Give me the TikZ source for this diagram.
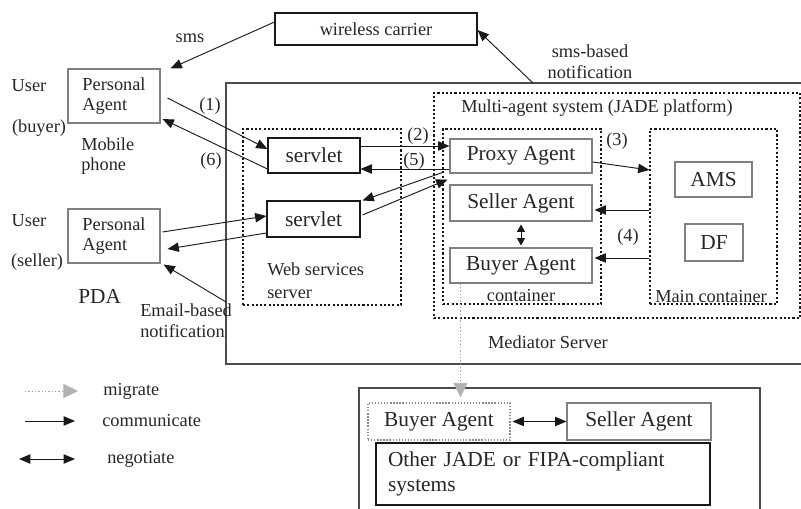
\documentclass[tikz,border=0pt]{standalone}
\usepackage{fontspec}
\setmainfont{Liberation Serif}
\usetikzlibrary{arrows.meta,calc}
\begin{document}
\begin{tikzpicture}[x=0.75pt,y=-0.75pt,
  big/.style={font=\fontsize{16}{19}\selectfont},
  small/.style={font=\fontsize{13.75}{15.5}\selectfont},
  sz/.style 2 args={minimum width=#1*0.75pt, minimum height=#2*0.75pt},
  txt/.style={inner sep=0pt, text=black!85},
  bx/.style={draw=black!90, line width=0.8pt, inner sep=0pt, text=black!85},
  gbx/.style={bx, draw=black!50},
  dbox/.style={draw=black!90, dash pattern=on 1.6pt off 1.6pt, line width=0.8pt, inner sep=0pt},
  arr/.style={-{Triangle[length=8.5pt,width=7pt]}, line width=0.7pt, black!90},
  darr/.style={{Triangle[length=8.5pt,width=7pt]}-{Triangle[length=8.5pt,width=7pt]}, line width=0.7pt, black!90},
  sdarr/.style={{Triangle[length=5.5pt,width=6pt]}-{Triangle[length=5.5pt,width=6pt]}, line width=0.7pt, black!90},
  mig/.style={draw=black!35, dash pattern=on 1pt off 1.5pt, line width=0.7pt, -{Triangle[length=11pt,width=10.5pt,color=black!30]}}
]
\useasboundingbox (0,0) rectangle (801,509);

% Mediator server frame (open to the right)
\draw[black!70, line width=0.9pt] (805,83) -- (226,83) -- (226,364) -- (805,364);
\coordinate (mtop) at (533,83);
\coordinate (mleft) at (226,302);

% bottom frame
\draw[black!70, line width=0.9pt] (359,512) -- (359,388) -- (760,388) -- (760,512);

% boxes
\node[bx, small, sz={202}{32}] (wc) at (376,29) {wireless carrier};
\node[gbx, small, align=left, sz={92}{54}] (pa1) at (114,96) {Personal\\Agent};
\node[gbx, small, align=left, sz={92}{54}] (pa2) at (114,236) {Personal\\Agent};
\node[bx, big, sz={92}{35}] (sv1) at (314,155.5) {servlet};
\node[bx, big, sz={93}{36}] (sv2) at (313.5,219) {servlet};
\node[gbx, big, sz={142}{34}] (proxy) at (521,156) {Proxy Agent};
\node[gbx, big, sz={142}{36}] (seller) at (521,203) {Seller Agent};
\node[gbx, big, sz={142}{35}] (buyer) at (521,265.5) {Buyer Agent};
\node[gbx, big, sz={77}{35}] (ams) at (713.5,179.5) {AMS};
\node[gbx, big, sz={58}{37}] (df) at (714,242.5) {DF};

% dotted containers
\node[dbox, sz={158}{176}] (wss) at (322,217) {};
\node[dbox, sz={366}{225}] (mas) at (617,205.5) {};
\node[dbox, sz={158}{175}] (cont) at (522,216.5) {};
\node[dbox, sz={127}{175}] (mainc) at (713.5,216.5) {};

% bottom system
\node[dbox, draw=black!45, dash pattern=on 1pt off 1.3pt, big, text=black!85, sz={142}{37}] (bbuyer) at (439,421.5) {Buyer Agent};
\node[gbx, big, sz={144}{37}] (bseller) at (639,421.5) {Seller Agent};
\node[bx, big, sz={334}{62}, text width=232.5pt, align=left] (other) at (543,474) {Other JADE or FIPA-compliant\\systems};

% labels
\node[txt, small] (lsms) at (190,38) {sms};
\node[txt, small, align=center] (lsmsb) at (590,62) {sms-based\\notification};
\node[txt, small] (luser1) at (29,86) {User};
\node[txt, small] (lbuyer) at (39,128) {(buyer)};
\node[txt, small, align=left, anchor=west] (lmob) at (81,156) {Mobile\\phone};
\node[txt, small] (luser2) at (29,221) {User};
\node[txt, small] (lseller) at (37,262) {(seller)};
\node[txt, big, anchor=west] (lpda) at (78,296) {PDA};
\node[txt, small, align=left, anchor=west] (lemail) at (140,321) {Email-based\\notification};
\node[txt, small, align=left, anchor=west, font=\fontsize{13.75}{17}\selectfont] (lwss) at (267,281) {Web services\\server};
\node[txt, small, anchor=west] (lmas) at (461,108) {Multi-agent system (JADE platform)};
\node[txt, small] (lcont) at (521,296) {container};
\node[txt, small] (lmainc) at (711,297) {Main container};
\node[txt, small] (lmed) at (548,342) {Mediator Server};
\node[txt, small] (l1) at (210,106) {(1)};
\node[txt, small] (l6) at (211,161) {(6)};
\node[txt, small] (l2) at (418,136) {(2)};
\node[txt, small] (l5) at (414,161) {(5)};
\node[txt, small] (l3) at (617,141) {(3)};
\node[txt, small] (l4) at (628,237) {(4)};

% connectors
\draw[arr] (wc.west |- 0,22) -- ($(pa1.north east)+(10,0)$);
\draw[arr] (mtop) -- (wc.east |- 0,30);
\draw[arr] ($(pa1.east)+(7,2)$) -- (sv1.west |- 0,149);
\draw[arr] (sv1.west |- 0,169) -- ($(pa1.east)+(2,23)$);
\draw[arr] (sv1.east |- 0,146) -- (proxy.west |- 0,146);
\draw[arr] (proxy.west |- 0,169) -- (sv1.east |- 0,169);
\draw[arr] (proxy.east |- 0,162) -- (mainc.west |- 0,170);
\draw[arr] ($(proxy.south west)+(-7,-1)$) -- ($(sv2.north east)+(2,0)$);
\draw[arr] ($(sv2.east)+(2,-4)$) -- ($(proxy.south west)+(-2,6)$);
\draw[arr] ($(pa2.east)+(2,-4)$) -- (sv2.west |- 0,216);
\draw[arr] (sv2.west |- 0,233) -- ($(pa2.east)+(7,13)$);
\draw[arr] (mleft) -- ($(pa2.south east)+(3,1)$);
\draw[arr] (mainc.west |- 0,210) -- ($(seller.east |- 0,210)+(2,0)$);
\draw[arr] (mainc.west |- 0,258) -- ($(buyer.east |- 0,258)+(2,0)$);
\draw[sdarr] ($(seller.south)+(0,3)$) -- ($(buyer.north)+(0,-2)$);
\draw[mig] ($(buyer.south west)+(11,0)$) -- ($(bbuyer.north west)+(93,-5)$);
\draw[darr] ($(bbuyer.east)+(2,0)$) -- (bseller.west);

% legend
\coordinate (lg1a) at (25,391); \coordinate (lg1b) at (78,391);
\coordinate (lg2a) at (25,421); \coordinate (lg2b) at (75,421);
\coordinate (lg3a) at (19,459); \coordinate (lg3b) at (75,459);
\draw[mig] (lg1a) -- (lg1b);
\draw[arr] (lg2a) -- (lg2b);
\draw[darr] (lg3a) -- (lg3b);
\node[txt, small, anchor=west] (tmig) at (103,391) {migrate};
\node[txt, small, anchor=west] (tcom) at (102,421) {communicate};
\node[txt, small, anchor=west] (tneg) at (107,459) {negotiate};
\end{tikzpicture}
\end{document}
